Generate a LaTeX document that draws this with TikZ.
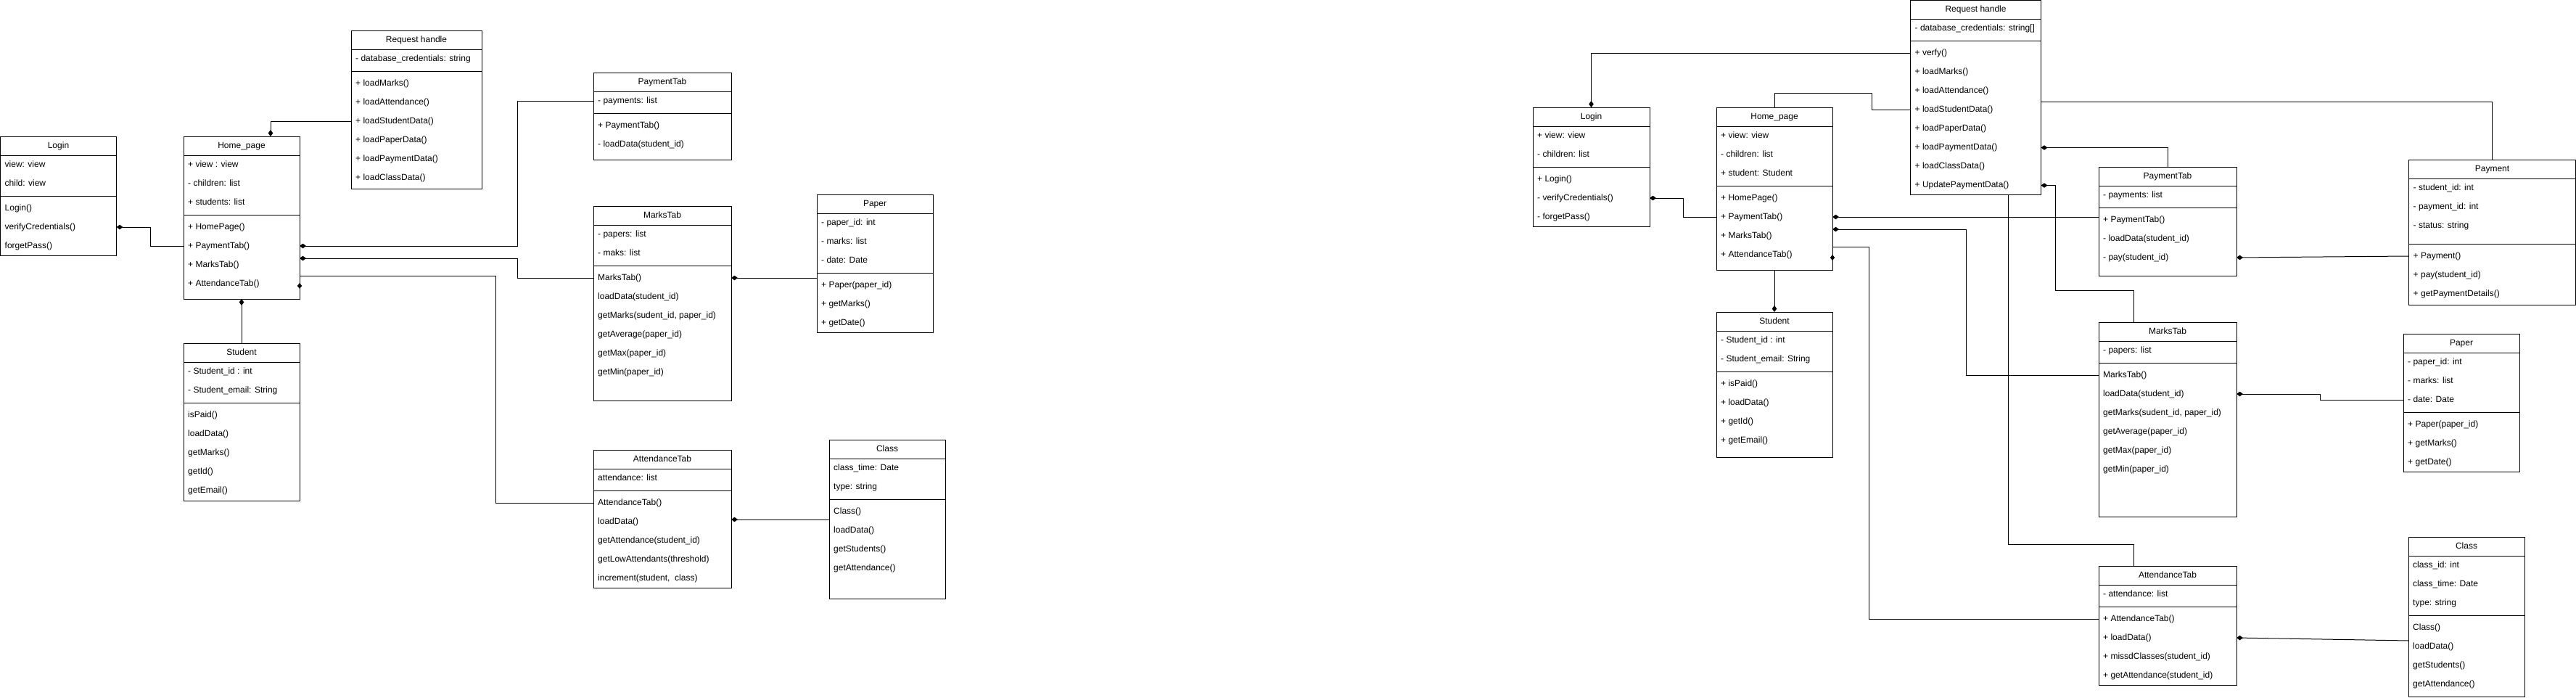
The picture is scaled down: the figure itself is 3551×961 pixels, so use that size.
\documentclass[tikz,border=0pt]{standalone}
\usepackage{fontspec}
\setmainfont{Liberation Sans}
\usetikzlibrary{arrows.meta,calc,shapes.geometric}
\newcommand{\umlfs}{\fontsize{12pt}{14pt}\selectfont}
\tikzset{
  clsbox/.style={draw=black, line width=1pt, fill=white, inner sep=0pt, outer sep=0pt, rectangle},
  clsline/.style={draw=black, line width=1pt},
  clstitle/.style={inner sep=0pt, font=\umlfs, text height=9pt, text depth=3pt},
  rowtxt/.style={anchor=west, inner sep=0pt, font=\umlfs, text height=9pt, text depth=3pt},
  conn/.style={draw=black, line width=1pt},
  comp/.style={conn, -{Diamond[length=9pt,width=6.5pt]}},
  compstart/.style={conn, {Diamond[length=9pt,width=6.5pt]}-},
  sdia/.style={diamond, fill=black, draw=none, inner sep=0pt, minimum width=6.5pt, minimum height=8pt}
}
% #1 name, #2 x, #3 y, #4 w, #5 h, #6 title, #7 attrs, #8 methods, #9 extra gap
\newcommand{\ucl}[9]{%
  \node[clsbox, minimum width=#4pt, minimum height=#5pt, anchor=north west] (#1) at (#2,#3) {};
  \node[clstitle] (#1-t) at ($(#1.north)+(0,13)$) {#6};
  \draw[clsline] ($(#1.north west)+(0,26)$) -- ($(#1.north east)+(0,26)$);
  \foreach \t [count=\i] in {#7} {%
    \pgfmathsetmacro\yy{26+13+26*(\i-1)}
    \node[rowtxt] (#1-a\i) at ($(#1.north west)+(6,\yy)$) {\t};
    \xdef\nattr{\i}}
  \pgfmathsetmacro\ys{26+26*\nattr+4+#9}
  \draw[clsline] ($(#1.north west)+(0,\ys)$) -- ($(#1.north east)+(0,\ys)$);
  \foreach \t [count=\i] in {#8} {%
    \pgfmathsetmacro\yy{26*\nattr+47+#9+26*(\i-1)}
    \node[rowtxt] (#1-m\i) at ($(#1.north west)+(6,\yy)$) {\t};}
}
\begin{document}
\begin{tikzpicture}[x=1pt,y=-1pt]
\fill[white] (0,0) rectangle (3551,961);
\useasboundingbox (0,0) rectangle (3551,961);

% ---------------- left diagram ----------------
\ucl{loginL}{0.5}{188}{160}{164}{Login}{view: view, child: view}{Login(), verifyCredentials(), forgetPass()}{0}
\ucl{homeL}{253}{188}{160}{224}{Home\_page}{+ view : view, - children: list, + students: list}{+ HomePage(), + PaymentTab(), + MarksTab(), + AttendanceTab()}{0}
\ucl{studL}{253}{473}{160}{217}{Student}{- Student\_id : int, - Student\_email: String}{isPaid(), loadData(), getMarks(), getId(), getEmail()}{0}
\ucl{reqL}{484}{42}{180}{218}{Request handle}{- database\_credentials: string}{+ loadMarks(), + loadAttendance(), + loadStudentData(), + loadPaperData(), + loadPaymentData(), + loadClassData()}{0}
\ucl{payL}{818}{100}{190}{120}{PaymentTab}{- payments: list}{+ PaymentTab(), - loadData(student\_id)}{0}
\ucl{markL}{818}{284}{190}{268}{MarksTab}{- papers: list, - maks: list}{MarksTab(), loadData(student\_id), {getMarks(sudent\_id, paper\_id)}, getAverage(paper\_id), getMax(paper\_id), getMin(paper\_id)}{0}
\ucl{attL}{818}{620}{190}{190}{AttendanceTab}{attendance: list}{AttendanceTab(), loadData(), getAttendance(student\_id), getLowAttendants(threshold), {increment(student,\ \ class)}}{0}
\ucl{paperL}{1126}{268}{160}{190}{Paper}{- paper\_id: int, - marks: list, - date: Date}{+ Paper(paper\_id), + getMarks(), + getDate()}{0}
\ucl{classL}{1143}{606}{160}{219}{Class}{class\_time: Date, type: string}{Class(), loadData(), getStudents(), getAttendance()}{0}

\draw[comp] (reqL.west |- reqL-m3) -| ($(homeL.north)+(40,0)$);
\draw[comp] (homeL.west |- homeL-m2) -- ++(-46,0) |- (loginL.east |- loginL-m2);
\draw[comp] (payL.west |- payL-a1) -- ++(-105,0) |- (homeL.east |- homeL-m2);
\draw[comp] (markL.west |- markL-m1) -- ++(-105,0) |- ($(homeL.east |- homeL-m3)+(0,-9)$);
\draw[conn] ($(homeL.east |- homeL-m4)+(0,-11)$) -- ++(270,0) |- (attL.west |- attL-m1);
\node[sdia] (dsL) at ($(homeL.east |- homeL-m4)+(0,3)$) {};
\draw[comp] (paperL.west |- markL-m1) -- (markL.east |- markL-m1);
\draw[comp] ($(classL.west |- attL-m2)+(0,-3)$) -- ($(attL.east |- attL-m2)+(0,-3)$);
\draw[compstart] (homeL.south) -- (studL.north);

% ---------------- right diagram ----------------
\ucl{loginR}{2113}{148}{161}{164}{Login}{+ view: view, - children: list}{+ Login(), - verifyCredentials(), - forgetPass()}{0}
\ucl{homeR}{2366}{148}{160}{224}{Home\_page}{+ view: view, - children: list, + student: Student}{+ HomePage(), + PaymentTab(), + MarksTab(), + AttendanceTab()}{0}
\ucl{studR}{2366}{430}{160}{200}{Student}{- Student\_id : int, - Student\_email: String}{+ isPaid(), + loadData(), + getId(), + getEmail()}{0}
\ucl{reqR}{2633.5}{0.5}{180}{268}{Request handle}{- database\_credentials: string[]}{+ verfy(), + loadMarks(), + loadAttendance(), + loadStudentData(), + loadPaperData(), + loadPaymentData(), + loadClassData(), + UpdatePaymentData()}{0}
\ucl{payR}{2893}{230}{190}{150}{PaymentTab}{- payments: list}{+ PaymentTab(), - loadData(student\_id), - pay(student\_id)}{0}
\ucl{markR}{2893}{444}{190}{268}{MarksTab}{- papers: list}{MarksTab(), loadData(student\_id), {getMarks(sudent\_id, paper\_id)}, getAverage(paper\_id), getMax(paper\_id), getMin(paper\_id)}{0}
\ucl{attR}{2893}{780}{190}{164}{AttendanceTab}{- attendance: list}{+ AttendanceTab(), + loadData(), + missdClasses(student\_id), + getAttendance(student\_id)}{0}
\ucl{paperR}{3313}{460}{160}{190}{Paper}{- paper\_id: int, - marks: list, - date: Date}{+ Paper(paper\_id), + getMarks(), + getDate()}{0}
\ucl{classR}{3320}{740}{160}{220}{Class}{class\_id: int, class\_time: Date, type: string}{Class(), loadData(), getStudents(), getAttendance()}{0}
\ucl{pmtR}{3320.5}{220}{230}{200}{Payment}{- student\_id: int, - payment\_id: int, - status: string}{+ Payment(), + pay(student\_id), + getPaymentDetails()}{8}

\draw[comp] (reqR.west |- reqR-m1) -| (loginR.north);
\draw[conn] (reqR.west |- reqR-m4) -- ++(-53.5,0) |- ($(homeR.north)+(0,-20)$) -- (homeR.north);
\draw[comp] (homeR.west |- homeR-m2) -- ++(-46,0) |- (loginR.east |- loginR-m2);
\draw[comp] (payR.west |- homeR-m2) -- (homeR.east |- homeR-m2);
\draw[compstart] ($(homeR.east |- homeR-m3)+(0,-9)$) -- ++(184,0) |- (markR.west |- markR-m1);
\draw[conn] ($(homeR.east |- homeR-m4)+(0,-11)$) -- ++(50,0) |- (attR.west |- attR-m1);
\node[sdia] (dsR) at ($(homeR.east |- homeR-m4)+(0,4)$) {};
\draw[comp] (payR.north) |- (reqR.east |- reqR-m6);
\draw[compstart] (reqR.east |- reqR-m8) -- ++(20,0) |- ($(markR.north)+(-47,-44)$) -- ($(markR.north)+(-47,0)$);
\draw[conn] ($(reqR.south)+(45,0)$) |- ($(attR.north)+(-47,-30)$) -- ($(attR.north)+(-47,0)$);
\draw[conn] (pmtR.north) |- ($(reqR.east |- reqR-m4)+(0,-11)$);
\draw[comp] (pmtR.west |- pmtR-m1) -- (payR.east |- payR-m3);
\draw[comp] (paperR.west |- paperR-a3) -- ++(-115,0) |- (markR.east |- markR-m2);
\draw[comp] ($(classR.west |- classR-m2)+(0,-8)$) -- (attR.east |- attR-m2);
\draw[comp] (homeR.south) -- (studR.north);
\end{tikzpicture}
\end{document}
